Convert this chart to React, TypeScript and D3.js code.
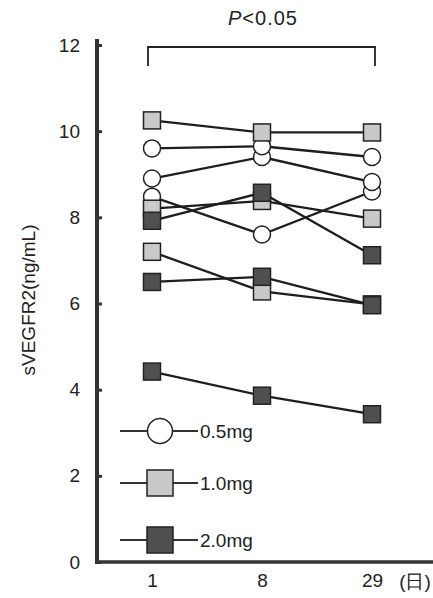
import React, { useEffect, useRef } from 'react';
import * as d3 from 'd3';

// Days on the x axis
const days = ['1', '8', '29'];
const yTicks = [0, 2, 4, 6, 8, 10, 12];

// 0.5mg group (open circles)
const dose05a = [9.6, 9.65, 9.4];
const dose05b = [8.9, 9.4, 8.82];
const dose05c = [8.48, 7.6, 8.6];
// 1.0mg group (light grey squares)
const dose10a = [10.25, 9.97, 9.97];
const dose10b = [8.2, 8.38, 7.97];
const dose10c = [7.2, 6.28, 5.98];
// 2.0mg group (dark grey squares)
const dose20a = [7.92, 8.57, 7.12];
const dose20b = [6.5, 6.62, 5.96];
const dose20c = [4.42, 3.86, 3.43];

const legendLabels = ['0.5mg', '1.0mg', '2.0mg'];

const App = () => {
    const svgRef = useRef<SVGSVGElement>(null);

    useEffect(() => {
        const width = 433;
        const height = 598;
        const font = '"Liberation Sans", Arial, sans-serif';
        const ink = '#222';

        const svg = d3.select(svgRef.current)
            .attr('width', width)
            .attr('height', height)
            .style('background', '#fff');

        svg.selectAll('*').remove();

        const x = d3.scalePoint<string>().domain(days).range([152, 372]);
        const y = d3.scaleLinear().domain([0, 12]).range([562, 45]);
        const axisX = 97;

        const groups = [
            { kind: 'circle', fill: '#fff', series: [dose05c, dose05b, dose05a] },
            { kind: 'square', fill: '#c9c9c9', series: [dose10b, dose10c, dose10a] },
            { kind: 'square', fill: '#4f4f4f', series: [dose20a, dose20b, dose20c] },
        ];

        const line = d3.line<number>()
            .x((_, i) => x(days[i]) as number)
            .y(d => y(d));

        // lines first
        groups.forEach(g => {
            g.series.forEach(s => {
                svg.append('path')
                    .attr('d', line(s))
                    .attr('fill', 'none')
                    .attr('stroke', '#1e1e1e')
                    .attr('stroke-width', 2.3);
            });
        });

        const drawMarker = (sel, kind, fill, cx, cy, size) => {
            if (kind === 'circle') {
                sel.append('circle')
                    .attr('cx', cx).attr('cy', cy).attr('r', size / 2)
                    .attr('fill', fill).attr('stroke', ink).attr('stroke-width', 1.5);
            } else {
                sel.append('rect')
                    .attr('x', cx - size / 2).attr('y', cy - size / 2)
                    .attr('width', size).attr('height', size)
                    .attr('fill', fill).attr('stroke', ink).attr('stroke-width', 1.5);
            }
        };

        // markers
        groups.forEach(g => {
            g.series.forEach(s => {
                s.forEach((v, i) => drawMarker(svg, g.kind, g.fill, x(days[i]), y(v), 17));
            });
        });

        // Y axis
        const yAxis = svg.append('g')
            .attr('transform', `translate(${axisX},0)`)
            .call(d3.axisLeft(y).tickValues(yTicks).tickSize(-5).tickPadding(17));
        yAxis.select('.domain').remove();
        yAxis.selectAll('line').attr('stroke', '#333').attr('stroke-width', 3);
        yAxis.selectAll('text')
            .attr('font-family', font).attr('font-size', 19).attr('fill', ink);

        // X axis
        const xAxis = svg.append('g')
            .attr('transform', `translate(0,${y(0)})`)
            .call(d3.axisBottom(x).tickSize(0).tickPadding(12));
        xAxis.select('.domain').remove();
        xAxis.selectAll('text')
            .attr('font-family', font).attr('font-size', 19).attr('fill', ink);

        svg.append('line')
            .attr('x1', axisX).attr('x2', axisX)
            .attr('y1', y(12) - 6).attr('y2', y(0) + 2)
            .attr('stroke', '#333').attr('stroke-width', 4);
        svg.append('line')
            .attr('x1', axisX - 2).attr('x2', width)
            .attr('y1', y(0)).attr('y2', y(0))
            .attr('stroke', '#333').attr('stroke-width', 3.5);

        svg.append('text')
            .attr('x', 415).attr('y', 588)
            .attr('text-anchor', 'middle')
            .attr('font-family', font).attr('font-size', 19).attr('fill', ink)
            .text('(日)');

        // Y title
        svg.append('text')
            .attr('transform', `translate(35,300) rotate(-90)`)
            .attr('text-anchor', 'middle')
            .attr('font-family', font).attr('font-size', 19).attr('fill', ink)
            .text('sVEGFR2(ng/mL)');

        // significance bracket
        const bx1 = (x('1') as number) - 4;
        const bx2 = (x('29') as number) + 3;
        svg.append('path')
            .attr('d', `M${bx1},66V47H${bx2}V66`)
            .attr('fill', 'none').attr('stroke', ink).attr('stroke-width', 1.8);
        const pt = svg.append('text')
            .attr('x', 263).attr('y', 25)
            .attr('text-anchor', 'middle')
            .attr('font-family', font).attr('font-size', 20).attr('fill', ink)
            .attr('letter-spacing', 1);
        pt.append('tspan').attr('font-style', 'italic').text('P');
        pt.append('tspan').text('<0.05');

        // legend
        const legendY = [431, 483, 540];
        groups.forEach((g, i) => {
            const ly = legendY[i];
            svg.append('line')
                .attr('x1', 120).attr('x2', 198)
                .attr('y1', ly).attr('y2', ly)
                .attr('stroke', '#333').attr('stroke-width', 1.8);
            drawMarker(svg, g.kind, g.fill, 160, ly, i === 0 ? 25 : 26);
            svg.append('text')
                .attr('x', 200).attr('y', ly + 7)
                .attr('font-family', font).attr('font-size', 19).attr('fill', ink)
                .text(legendLabels[i]);
        });
    }, []);

    return (
        <svg ref={svgRef} style={{ position: 'absolute', left: 0, top: 0 }}></svg>
    );
};

export default App;
